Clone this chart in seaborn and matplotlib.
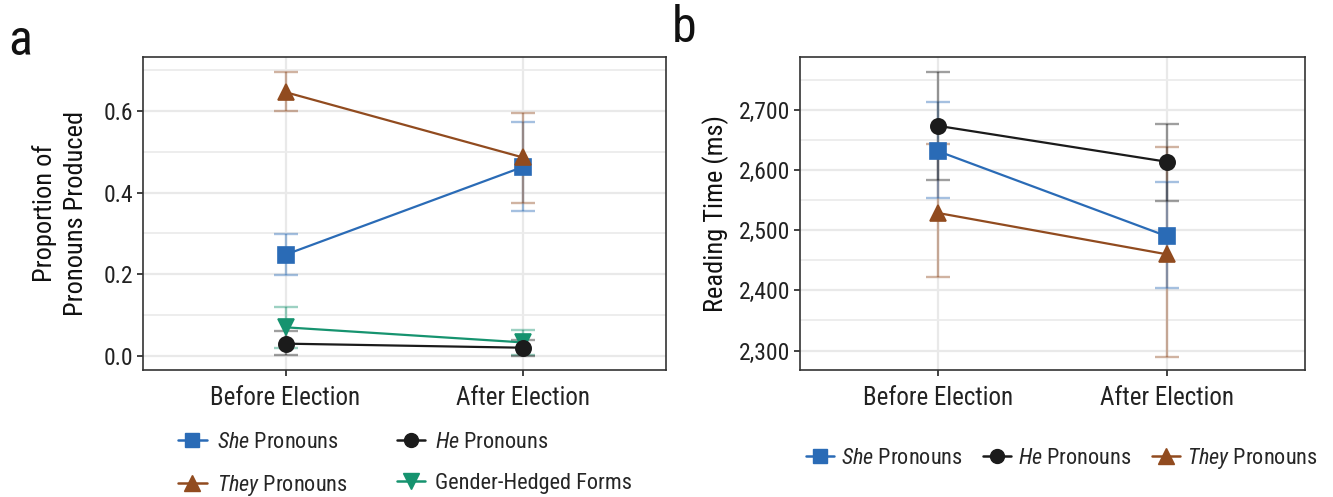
import pandas as pd
import matplotlib
matplotlib.use("Agg")
import matplotlib.pyplot as plt
import matplotlib.ticker as mticker
from matplotlib import font_manager
from matplotlib.lines import Line2D
import seaborn as sns

times = ['Before Election', 'After Election']

# panel a: proportion of pronouns produced (mean, CI low, CI high)
she_prop = [0.248, 0.463]
she_prop_lo = [0.199, 0.356]
she_prop_hi = [0.298, 0.572]
he_prop = [0.030, 0.020]
he_prop_lo = [0.002, 0.000]
he_prop_hi = [0.060, 0.038]
they_prop = [0.646, 0.486]
they_prop_lo = [0.600, 0.375]
they_prop_hi = [0.695, 0.594]
hedged_prop = [0.070, 0.033]
hedged_prop_lo = [0.020, 0.002]
hedged_prop_hi = [0.120, 0.064]

# panel b: reading time in ms
she_rt = [2632, 2490]
she_rt_lo = [2553, 2404]
she_rt_hi = [2713, 2580]
he_rt = [2674, 2614]
he_rt_lo = [2583, 2548]
he_rt_hi = [2764, 2677]
they_rt = [2529, 2460]
they_rt_lo = [2422, 2290]
they_rt_hi = [2644, 2639]

groups_a = ['She', 'He', 'They', 'Hedged']
groups_b = ['She', 'He', 'They']
colors = {'She': '#2a6bb6', 'He': '#1b1b1b', 'They': '#914b1f', 'Hedged': '#16936f'}
markers = {'She': 's', 'He': 'o', 'They': '^', 'Hedged': 'v'}
msizes = {'She': 11, 'He': 11, 'They': 12, 'Hedged': 12}
labels = {'She': r'$\it{She}$ Pronouns', 'He': r'$\it{He}$ Pronouns',
          'They': r'$\it{They}$ Pronouns', 'Hedged': 'Gender-Hedged Forms'}


def pick_font(names):
    installed = {f.name for f in font_manager.fontManager.ttflist}
    for n in names:
        if n in installed:
            return n
    return 'DejaVu Sans'


FONT = pick_font(['Roboto Condensed', 'Liberation Sans Narrow', 'Arial Narrow',
                  'Open Sans Condensed', 'Roboto', 'Liberation Sans'])
NARROW = FONT in ('Roboto Condensed', 'Liberation Sans Narrow', 'Arial Narrow',
                  'Open Sans Condensed')
k = 1.0 if NARROW else 0.88

sns.set_theme(style="white")
plt.rcParams['font.family'] = [FONT, 'DejaVu Sans']
plt.rcParams['mathtext.fontset'] = 'custom'
plt.rcParams['mathtext.rm'] = FONT
plt.rcParams['mathtext.it'] = FONT + ':italic'


def build(vals):
    rows = []
    for g, (m, lo, hi) in vals.items():
        for t, a, b, c in zip(times, m, lo, hi):
            rows.append({'group': g, 'time': t, 'mean': a, 'lo': b, 'hi': c})
    return pd.DataFrame(rows)


df_a = build({'She': (she_prop, she_prop_lo, she_prop_hi),
              'He': (he_prop, he_prop_lo, he_prop_hi),
              'They': (they_prop, they_prop_lo, they_prop_hi),
              'Hedged': (hedged_prop, hedged_prop_lo, hedged_prop_hi)})
df_b = build({'She': (she_rt, she_rt_lo, she_rt_hi),
              'He': (he_rt, he_rt_lo, he_rt_hi),
              'They': (they_rt, they_rt_lo, they_rt_hi)})


def draw(ax, df, draw_order):
    for g in draw_order:
        sub = df[df['group'] == g]
        xs = [times.index(t) for t in sub['time']]
        ax.errorbar(xs, sub['mean'],
                    yerr=[sub['mean'] - sub['lo'], sub['hi'] - sub['mean']],
                    fmt='none', ecolor=colors[g], alpha=0.42, elinewidth=1.7,
                    capsize=8.5, capthick=1.7, zorder=1.5)
    for g in draw_order:
        sub = df[df['group'] == g]
        sns.pointplot(data=sub, x='time', y='mean', order=times, color=colors[g],
                      markers=markers[g], markersize=msizes[g], linewidth=1.6,
                      errorbar=None, ax=ax)
    ax.set_xlim(-0.6, 1.6)
    ax.set_xlabel('')
    ax.set_axisbelow(True)
    ax.grid(True, which='major', axis='both', color='#e9e9e9', lw=1.6)
    ax.grid(True, which='minor', axis='y', color='#ececec', lw=1.3)
    for s in ax.spines.values():
        s.set_color('#333333')
        s.set_linewidth(1.2)
    ax.tick_params(axis='both', which='major', length=4, width=1.3, color='#333333',
                   labelcolor='#222222', bottom=True, left=True, pad=3)
    ax.tick_params(axis='y', labelsize=17 * k)
    ax.tick_params(axis='x', labelsize=18 * k, pad=8)
    ax.tick_params(axis='both', which='minor', length=0)


def handles(groups):
    return [Line2D([], [], color=colors[g], marker=markers[g], markersize=msizes[g] - 1,
                   lw=1.8) for g in groups]


fig = plt.figure(figsize=(13.33, 4.97), dpi=100)
ax_a = fig.add_axes([0.1073, 0.256, 0.392, 0.630])
ax_b = fig.add_axes([0.6000, 0.256, 0.379, 0.630])

draw(ax_a, df_a, ['Hedged', 'He', 'She', 'They'])
ax_a.set_ylim(-0.034, 0.733)
ax_a.yaxis.set_major_locator(mticker.MultipleLocator(0.2))
ax_a.yaxis.set_minor_locator(mticker.MultipleLocator(0.1))
ax_a.yaxis.set_major_formatter(mticker.StrMethodFormatter('{x:.1f}'))
ax_a.set_ylabel('Proportion of\nPronouns Produced', fontsize=19 * k, color='#111111',
                labelpad=11, linespacing=1.4)

draw(ax_b, df_b, ['They', 'She', 'He'])
ax_b.set_ylim(2268, 2789)
ax_b.yaxis.set_major_locator(mticker.MultipleLocator(100))
ax_b.yaxis.set_minor_locator(mticker.MultipleLocator(50))
ax_b.yaxis.set_major_formatter(mticker.StrMethodFormatter('{x:,.0f}'))
ax_b.set_ylabel('Reading Time (ms)', fontsize=19 * k, color='#111111', labelpad=7)

order_a = ['She', 'They', 'He', 'Hedged']
ax_a.legend(handles(order_a), [labels[g] for g in order_a],
            ncol=2, loc='upper left', bbox_to_anchor=(0.05, -0.17),
            frameon=False, fontsize=16 * k, handlelength=1.3, handletextpad=0.45,
            columnspacing=2.2, labelspacing=0.9, borderaxespad=0)
ax_b.legend(handles(groups_b), [labels[g] for g in groups_b],
            ncol=3, loc='upper left', bbox_to_anchor=(-0.005, -0.215),
            frameon=False, fontsize=16 * k, handlelength=1.25, handletextpad=0.3,
            columnspacing=0.95, borderaxespad=0)

fig.text(0.006, 0.89, 'a', fontsize=36, color='#111111')
fig.text(0.504, 0.915, 'b', fontsize=36, color='#111111')

plt.savefig('out.png', dpi=100)
plt.close()
